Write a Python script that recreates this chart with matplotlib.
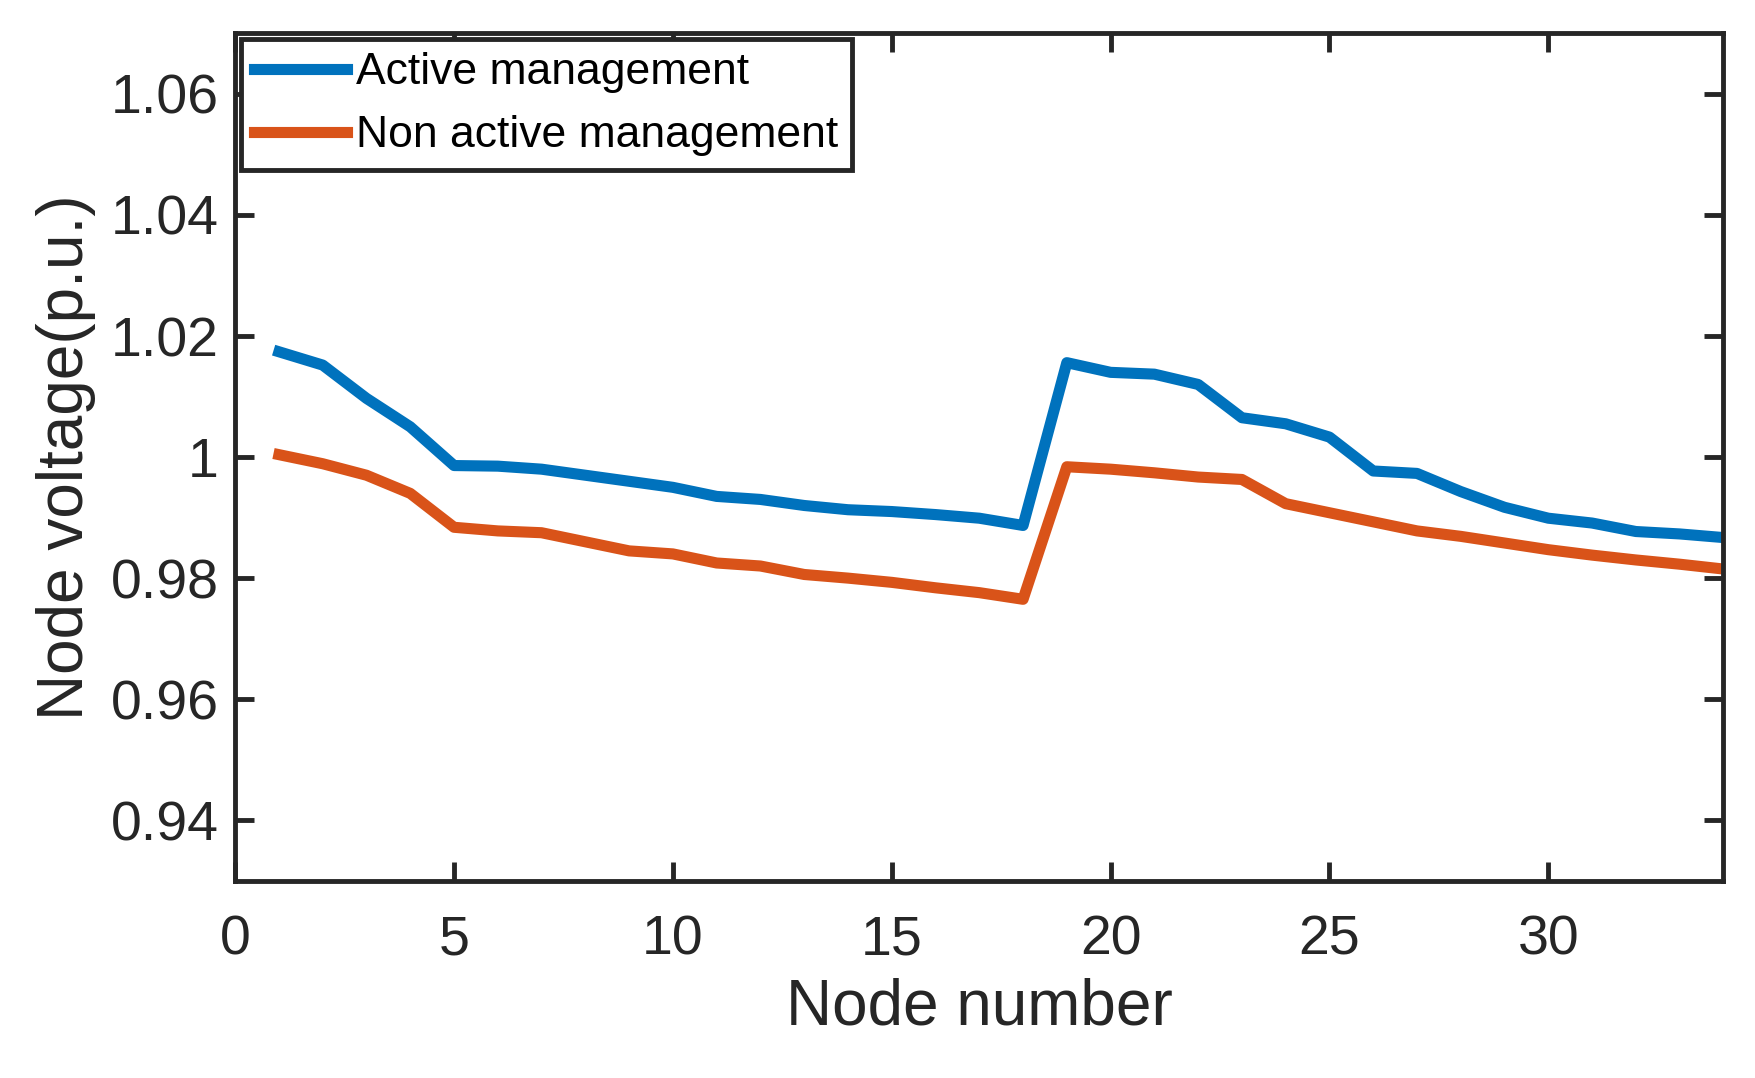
import matplotlib
matplotlib.use("Agg")
import matplotlib.pyplot as plt

plt.rcParams['font.family'] = ['Liberation Sans', 'DejaVu Sans']

nodes = list(range(1, 35))
active = [1.0174, 1.0152, 1.0097, 1.0050, 0.9986, 0.9985, 0.9980, 0.9970, 0.9960, 0.9950,
          0.9935, 0.9930, 0.9920, 0.9913, 0.9910, 0.9905, 0.9899, 0.9887, 1.0156, 1.0140,
          1.0137, 1.0120, 1.0065, 1.0055, 1.0033, 0.9977, 0.9973, 0.9943, 0.9917, 0.9899,
          0.9891, 0.9877, 0.9873, 0.9867]
non_active = [1.0004, 0.9989, 0.9970, 0.9940, 0.9884, 0.9878, 0.9875, 0.9860, 0.9845, 0.9840,
              0.9825, 0.9820, 0.9806, 0.9800, 0.9793, 0.9784, 0.9776, 0.9765, 0.9984, 0.9980,
              0.9974, 0.9967, 0.9963, 0.9923, 0.9908, 0.9893, 0.9878, 0.9869, 0.9858, 0.9847,
              0.9838, 0.9830, 0.9823, 0.9815]
labels = ["Active management", "Non active management"]
xticks = [0, 5, 10, 15, 20, 25, 30]
yticks = [0.94, 0.96, 0.98, 1.00, 1.02, 1.04, 1.06]
yticklabels = ["0.94", "0.96", "0.98", "1", "1.02", "1.04", "1.06"]

fig = plt.figure(figsize=(17.55, 10.78), dpi=100)
ax = fig.add_axes([0.134, 0.183, 0.848, 0.786])
ax.plot(nodes, active, color="#0072BD", lw=8, label=labels[0], solid_joinstyle='round')
ax.plot(nodes, non_active, color="#D95319", lw=8, label=labels[1], solid_joinstyle='round')
ax.set_xlim(0, 34)
ax.set_ylim(0.93, 1.07)
ax.set_xticks(xticks)
ax.set_yticks(yticks)
ax.set_yticklabels(yticklabels)
ax.tick_params(direction='in', length=14, width=3.5, top=True, right=True,
               labelsize=40, colors='#262626', pad=12)
ax.tick_params(axis='x', pad=24)
for s in ax.spines.values():
    s.set_linewidth(3.5)
    s.set_color('#262626')
ax.set_xlabel("Node number", fontsize=46, color='#262626', labelpad=8)
ax.set_ylabel("Node voltage(p.u.)", fontsize=46, color='#262626', labelpad=10)
leg = ax.legend(loc='upper left', fontsize=32, borderaxespad=0.12, handlelength=2.1,
                handletextpad=0.2, fancybox=False, framealpha=1, edgecolor='#262626',
                borderpad=0.3, labelspacing=0.5)
leg.get_frame().set_linewidth(3.5)
fig.savefig("out.png", dpi=100)
